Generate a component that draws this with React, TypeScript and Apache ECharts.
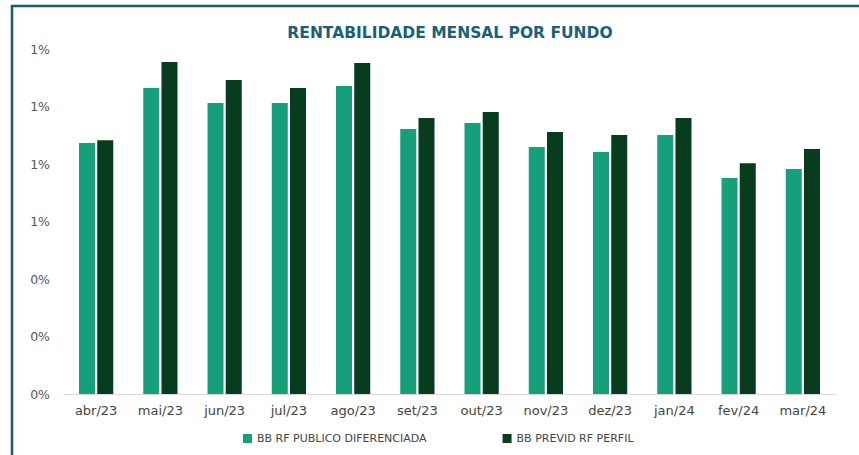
import React, { useEffect, useRef } from "react";
import * as echarts from "echarts";

const categories = ["abr/23", "mai/23", "jun/23", "jul/23", "ago/23", "set/23", "out/23", "nov/23", "dez/23", "jan/24", "fev/24", "mar/24"];
const publicoDiferenciada = [0.873, 1.064, 1.012, 1.012, 1.071, 0.922, 0.943, 0.859, 0.842, 0.901, 0.751, 0.783];
const previdPerfil = [0.883, 1.155, 1.092, 1.064, 1.151, 0.96, 0.981, 0.911, 0.901, 0.96, 0.803, 0.852];
const seriesNames = ["BB RF PUBLICO DIFERENCIADA", "BB PREVID RF PERFIL"];

const FONT = "'DejaVu Sans', sans-serif";

export default function App() {
  const ref = useRef<HTMLDivElement>(null);
  useEffect(() => {
    if (!ref.current) return;
    const chart = echarts.init(ref.current, undefined, { renderer: "svg" });
    chart.setOption({
      animation: false,
      backgroundColor: "#ffffff",
      title: {
        text: "RENTABILIDADE MENSAL POR FUNDO",
        left: 445,
        textAlign: "center",
        top: 20,
        textStyle: { color: "#1b5f78", fontSize: 15.5, fontWeight: "bold", fontFamily: FONT },
      },
      graphic: [
        {
          type: "rect",
          shape: { x: 12, y: 6, width: 900, height: 500 },
          style: { fill: "none", stroke: "#1a5a6e", lineWidth: 2.5 },
          silent: true,
        },
      ],
      legend: {
        bottom: 6,
        left: 238,
        itemGap: 76,
        itemWidth: 9,
        itemHeight: 9,
        icon: "rect",
        textStyle: { color: "#444", fontSize: 11, fontFamily: FONT },
        data: seriesNames,
      },
      grid: { left: 64, right: 24, top: 49, bottom: 61 },
      xAxis: {
        type: "category",
        data: categories,
        axisLine: { lineStyle: { color: "#d9d9d9" } },
        axisTick: { show: false },
        axisLabel: { color: "#444", fontSize: 13, margin: 10, fontFamily: FONT },
      },
      yAxis: {
        type: "value",
        min: 0,
        max: 1.2,
        interval: 0.2,
        splitLine: { show: false },
        axisLine: { show: false },
        axisTick: { show: false },
        axisLabel: {
          color: "#555",
          fontSize: 12.5,
          margin: 14,
          fontFamily: FONT,
          formatter: (v: number) => Math.round(v) + "%",
        },
      },
      series: [
        {
          name: seriesNames[0],
          type: "bar",
          data: publicoDiferenciada,
          barWidth: 16,
          barGap: "14%",
          itemStyle: { color: "#16a07a" },
        },
        {
          name: seriesNames[1],
          type: "bar",
          data: previdPerfil,
          barWidth: 16,
          itemStyle: { color: "#073d1c" },
        },
      ],
    });
    return () => chart.dispose();
  }, []);
  return <div ref={ref} style={{ position: "absolute", left: 0, top: 0, width: 859, height: 455 }} />;
}
